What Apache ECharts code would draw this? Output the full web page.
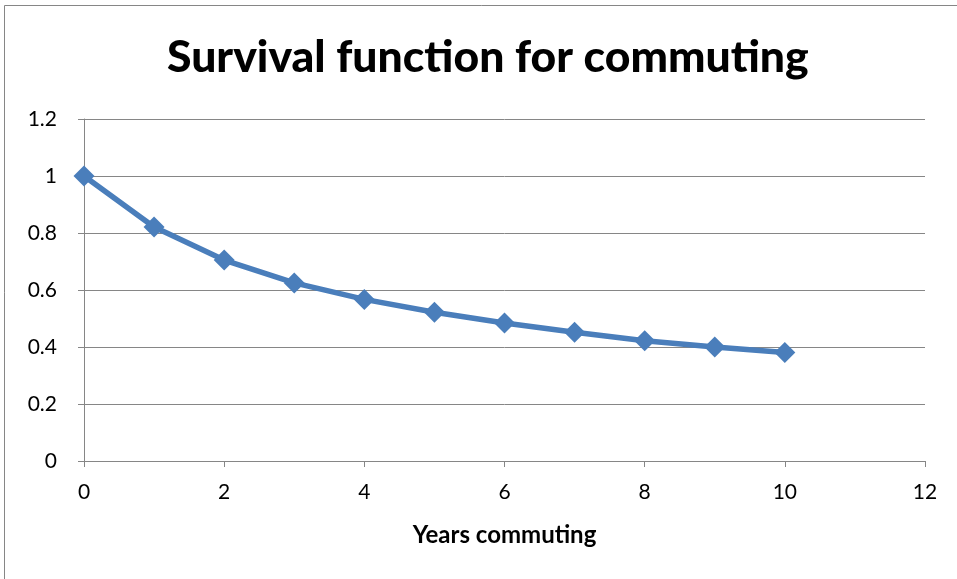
<!DOCTYPE html>
<html>
<head>
<meta charset="utf-8">
<script src="https://cdn.jsdelivr.net/npm/echarts@6/dist/echarts.min.js"></script>
<style>
  html, body { margin: 0; padding: 0; background: #fff; }
  #chart { width: 957px; height: 579px; }
</style>
</head>
<body>
<div id="chart"></div>
<script>
// data
const years = [0, 1, 2, 3, 4, 5, 6, 7, 8, 9, 10]
const survival = [1.0, 0.821, 0.705, 0.625, 0.567, 0.522, 0.484, 0.452, 0.422, 0.400, 0.381]
const titleText = 'Survival function for commuting'
const xName = 'Years commuting'

const chart = echarts.init(document.getElementById('chart'))
const font = 'Lato, "Open Sans", sans-serif'
const axisGray = '#868686'

const option = {
  animation: false,
  title: {
    text: titleText,
    left: 162,
    top: 30,
    textStyle: { fontFamily: font, fontSize: 44.5, fontWeight: 900, color: '#000' }
  },
  graphic: [{
    type: 'rect',
    shape: { x: 4.5, y: 5.5, width: 1200, height: 1200 },
    style: { fill: 'none', stroke: axisGray, lineWidth: 1 },
    silent: true
  }],
  grid: { left: 84, right: 32, top: 119, bottom: 118 },
  xAxis: {
    type: 'value',
    min: 0, max: 12, interval: 2,
    name: xName,
    nameLocation: 'middle',
    nameGap: 62,
    nameTextStyle: { fontFamily: font, fontSize: 24, fontWeight: 'bold', color: '#000' },
    axisLine: { show: true, onZero: false, lineStyle: { color: axisGray, width: 1 } },
    axisTick: { show: true, length: 6, lineStyle: { color: axisGray } },
    axisLabel: { fontFamily: font, fontSize: 21, color: '#000', margin: 21 },
    splitLine: { show: false }
  },
  yAxis: {
    type: 'value',
    min: 0, max: 1.2, interval: 0.2,
    axisLine: { show: true, lineStyle: { color: axisGray, width: 1 } },
    axisTick: { show: true, length: 6, lineStyle: { color: axisGray } },
    axisLabel: {
      fontFamily: font, fontSize: 21, color: '#000', margin: 27,
      formatter: v => String(Math.round(v * 10) / 10)
    },
    splitLine: { show: true, lineStyle: { color: axisGray, width: 1 } }
  },
  series: [{
    type: 'line',
    data: years.map((y, i) => [y, survival[i]]),
    symbol: 'diamond',
    symbolSize: 21,
    lineStyle: { color: '#4a7ebb', width: 5.5 },
    itemStyle: { color: '#4a7ebb' }
  }]
}
chart.setOption(option)
</script>
</body>
</html>
